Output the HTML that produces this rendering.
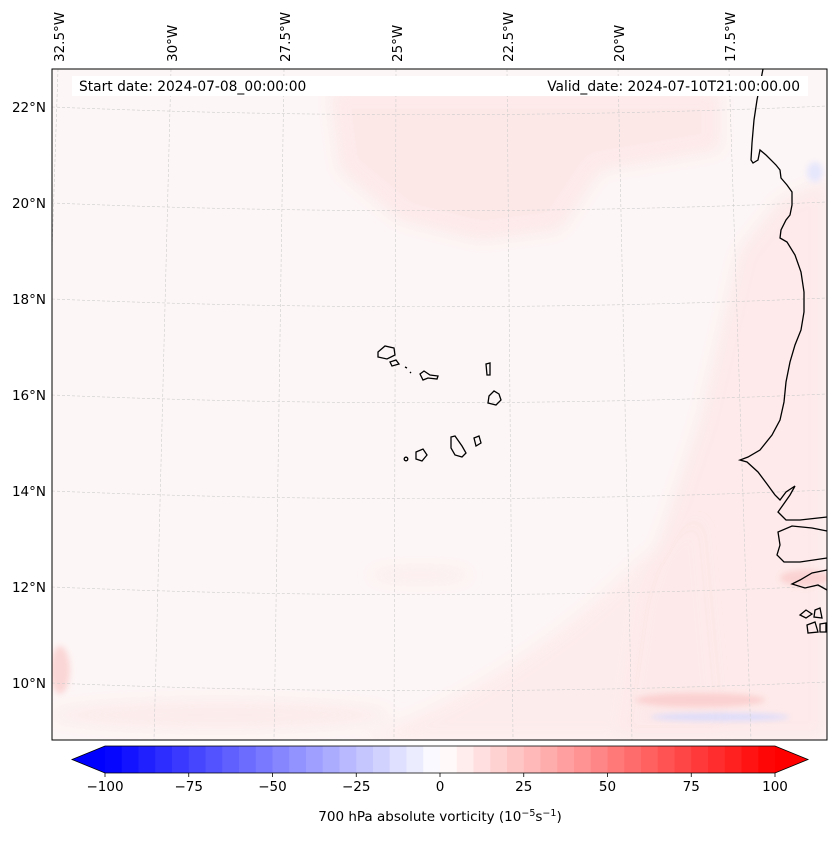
<!DOCTYPE html>
<html><head><meta charset="utf-8"><style>
body{margin:0;background:#fff;font-family:"Liberation Sans","DejaVu Sans",sans-serif;}
svg text{font-family:"DejaVu Sans","Liberation Sans",sans-serif;}
</style></head><body>
<svg id="s" width="837" height="839" viewBox="0 0 837 839" xmlns="http://www.w3.org/2000/svg">
<defs>
<filter id="bl" x="-50%" y="-50%" width="200%" height="200%"><feGaussianBlur stdDeviation="8"/></filter>
<filter id="bl2" x="-50%" y="-50%" width="200%" height="200%"><feGaussianBlur stdDeviation="3"/></filter>
<clipPath id="mc"><rect x="52" y="69" width="775" height="671"/></clipPath>
</defs>
<g clip-path="url(#mc)">
<rect x="52" y="69" width="775" height="671" fill="#fdf6f6"/>
<g filter="url(#bl)" fill="#fde6e6" opacity="0.85">
<path d="M330 90 L720 90 L720 150 L600 170 L560 230 L480 240 L400 220 L340 170 Z"/>
<path d="M620 740 L640 600 L700 420 L740 250 L780 200 L827 180 L827 740 Z" opacity="0.9"/>
<path d="M360 740 Q520 680 640 560 L700 520 L720 740 Z" opacity="0.7"/>
<ellipse cx="220" cy="715" rx="170" ry="14" opacity="0.8"/>
<ellipse cx="420" cy="575" rx="50" ry="6" opacity="0.8"/>
</g>
<g filter="url(#bl2)">
<ellipse cx="60" cy="670" rx="10" ry="24" fill="#fbd6d6"/>
<ellipse cx="700" cy="700" rx="65" ry="7" fill="#fbd0d0"/>
<ellipse cx="720" cy="717" rx="70" ry="4" fill="#dcdcfb"/>
<ellipse cx="805" cy="578" rx="25" ry="8" fill="#fbd2d2"/>
<ellipse cx="815" cy="172" rx="8" ry="10" fill="#e6e6fc"/>
</g>
</g>
<g id="grid" fill="none" stroke="#cccccc" stroke-width="0.6" stroke-dasharray="3,2" clip-path="url(#mc)"></g>
<g fill="none" stroke="#000" stroke-width="1.3">
<path d="M763 69 L757 100 L754 120 L752 143 L751 160 L753 163 L758 160 L760 150 L766 155 L776 165 L780 170 L781 178 L787 185 L792 192 L792 205 L790 215 L786 220 L781 230 L780 238 L787 242 L795 255 L801 272 L804 292 L804 312 L801 330 L795 345 L790 362 L786 382 L784 402 L780 420 L772 435 L760 450 L748 457 L740 460 L747 462 L758 472 L767 484 L775 495 L780 500 L786 492 L795 486 L790 495 L783 505 L778 512 L786 520 L800 520 L827 517"/>
<path d="M827 531 L812 528 L792 526 L778 532 L780 545 L777 555 L784 562 L800 562 L827 558"/>
<path d="M827 570 L812 573 L800 580 L792 584 L805 588 L818 585 L827 590"/>
<path d="M800 615 L806 610 L812 614 L806 618 Z M815 610 L820 608 L822 618 L814 617 Z M807 625 L815 622 L818 632 L808 633 Z M820 624 L826 623 L826 632 L820 632 Z"/>
<path d="M378 352 L385 346 L394 348 L395 355 L387 359 L378 357 Z"/>
<path d="M390 362 L396 360 L399 364 L392 366 Z"/>
<path d="M405 367 L407 368 M410 372 L411 373"/>
<path d="M420 374 L424 371 L430 375 L438 376 L437 379 L428 378 L423 380 Z"/>
<path d="M486 364 L490 363 L490 375 L487 375 Z"/>
<path d="M489 396 L494 391 L499 394 L501 400 L496 405 L488 403 Z"/>
<path d="M451 437 L455 436 L462 446 L466 453 L462 457 L455 455 L451 448 Z"/>
<path d="M474 438 L479 436 L481 443 L476 446 Z"/>
<path d="M416 452 L423 449 L427 455 L422 461 L416 459 Z"/>
<circle cx="406" cy="459" r="1.8"/>
</g>
<rect x="52" y="69" width="775" height="671" fill="none" stroke="#000" stroke-width="1"/>
<rect x="72" y="76" width="736" height="20" fill="#fff"/>
<text x="79" y="91" font-size="13.8">Start date: 2024-07-08_00:00:00</text>
<text x="800" y="91" font-size="13.8" text-anchor="end">Valid_date: 2024-07-10T21:00:00.00</text>
<g id="latl" font-size="13.5" text-anchor="end"></g>
<g id="lonl" font-size="13.5"></g>
<g id="cb"></g>
<text x="440" y="821" font-size="13.5" text-anchor="middle">700 hPa absolute vorticity (10<tspan dy="-5" font-size="9.5">−5</tspan><tspan dy="5">s</tspan><tspan dy="-5" font-size="9.5">−1</tspan><tspan dy="5">)</tspan></text>
</svg>
<script>
const latValues=[22,20,18,16,14,12,10];
const latLeftY=[107,203,299,395,491,587,683];
const lonValues=["32.5°W","30°W","27.5°W","25°W","22.5°W","20°W","17.5°W"];
const lonTopX=[58,171,284,396,507,618,729];
const lonBotX=[36,154,274,394,513,632,751];
const cbTicks=[-100,-75,-50,-25,0,25,50,75,100];
const cbLevels=[];for(let v=-100;v<100;v+=5)cbLevels.push(v);
const NS="http://www.w3.org/2000/svg";
function mk(t,a,p){const e=document.createElementNS(NS,t);for(const k in a)e.setAttribute(k,a[k]);p.appendChild(e);return e;}
const grid=document.getElementById('grid');
latValues.forEach((v,i)=>{const y=latLeftY[i];
const p=mk('path',{d:`M52 ${y} Q440 ${y+16} 827 ${y-1}`},grid);


const t=mk('text',{x:46,y:y+5},document.getElementById('latl'));t.textContent=v+'°N';

});
lonValues.forEach((v,i)=>{
const p=mk('line',{x1:lonTopX[i],y1:69,x2:lonBotX[i],y2:740},grid);


const t=mk('text',{x:0,y:0,transform:`translate(${lonTopX[i]+6},62) rotate(-90)`},document.getElementById('lonl'));t.textContent=v;

});
const cb=document.getElementById('cb');
const x0=105,x1=775,y0=746,y1=773;
const sx=v=>x0+(v+100)/200*(x1-x0);
function col(v){const f=(v+2.5)/100;let r,g,b;
if(f<0){r=g=Math.round(255*(1+f));b=255;}else{r=255;g=b=Math.round(255*(1-f));}
return `rgb(${r},${g},${b})`;}
cbLevels.forEach(v=>{
const r=mk('rect',{x:sx(v),y:y0,width:sx(v+5)-sx(v)+0.5,height:y1-y0,fill:col(v)},cb);

});
const lt=mk('path',{d:`M${x0} ${y0} L72 ${(y0+y1)/2} L${x0} ${y1} Z`,fill:'rgb(0,0,255)'},cb);


const rt=mk('path',{d:`M${x1} ${y0} L808 ${(y0+y1)/2} L${x1} ${y1} Z`,fill:'rgb(255,0,0)'},cb);


mk('path',{d:`M${x0} ${y0} L${x1} ${y0} L808 ${(y0+y1)/2} L${x1} ${y1} L${x0} ${y1} L72 ${(y0+y1)/2} Z`,fill:'none',stroke:'#000','stroke-width':0.8},cb);
cbTicks.forEach(v=>{const x=sx(v);
mk('line',{x1:x,y1:y1,x2:x,y2:y1+4,stroke:'#000','stroke-width':0.8},cb);
const t=mk('text',{x:x,y:y1+18,'font-size':13.5,'text-anchor':'middle'},cb);t.textContent=v<0?'−'+(-v):String(v);

});
</script>
</body></html>
